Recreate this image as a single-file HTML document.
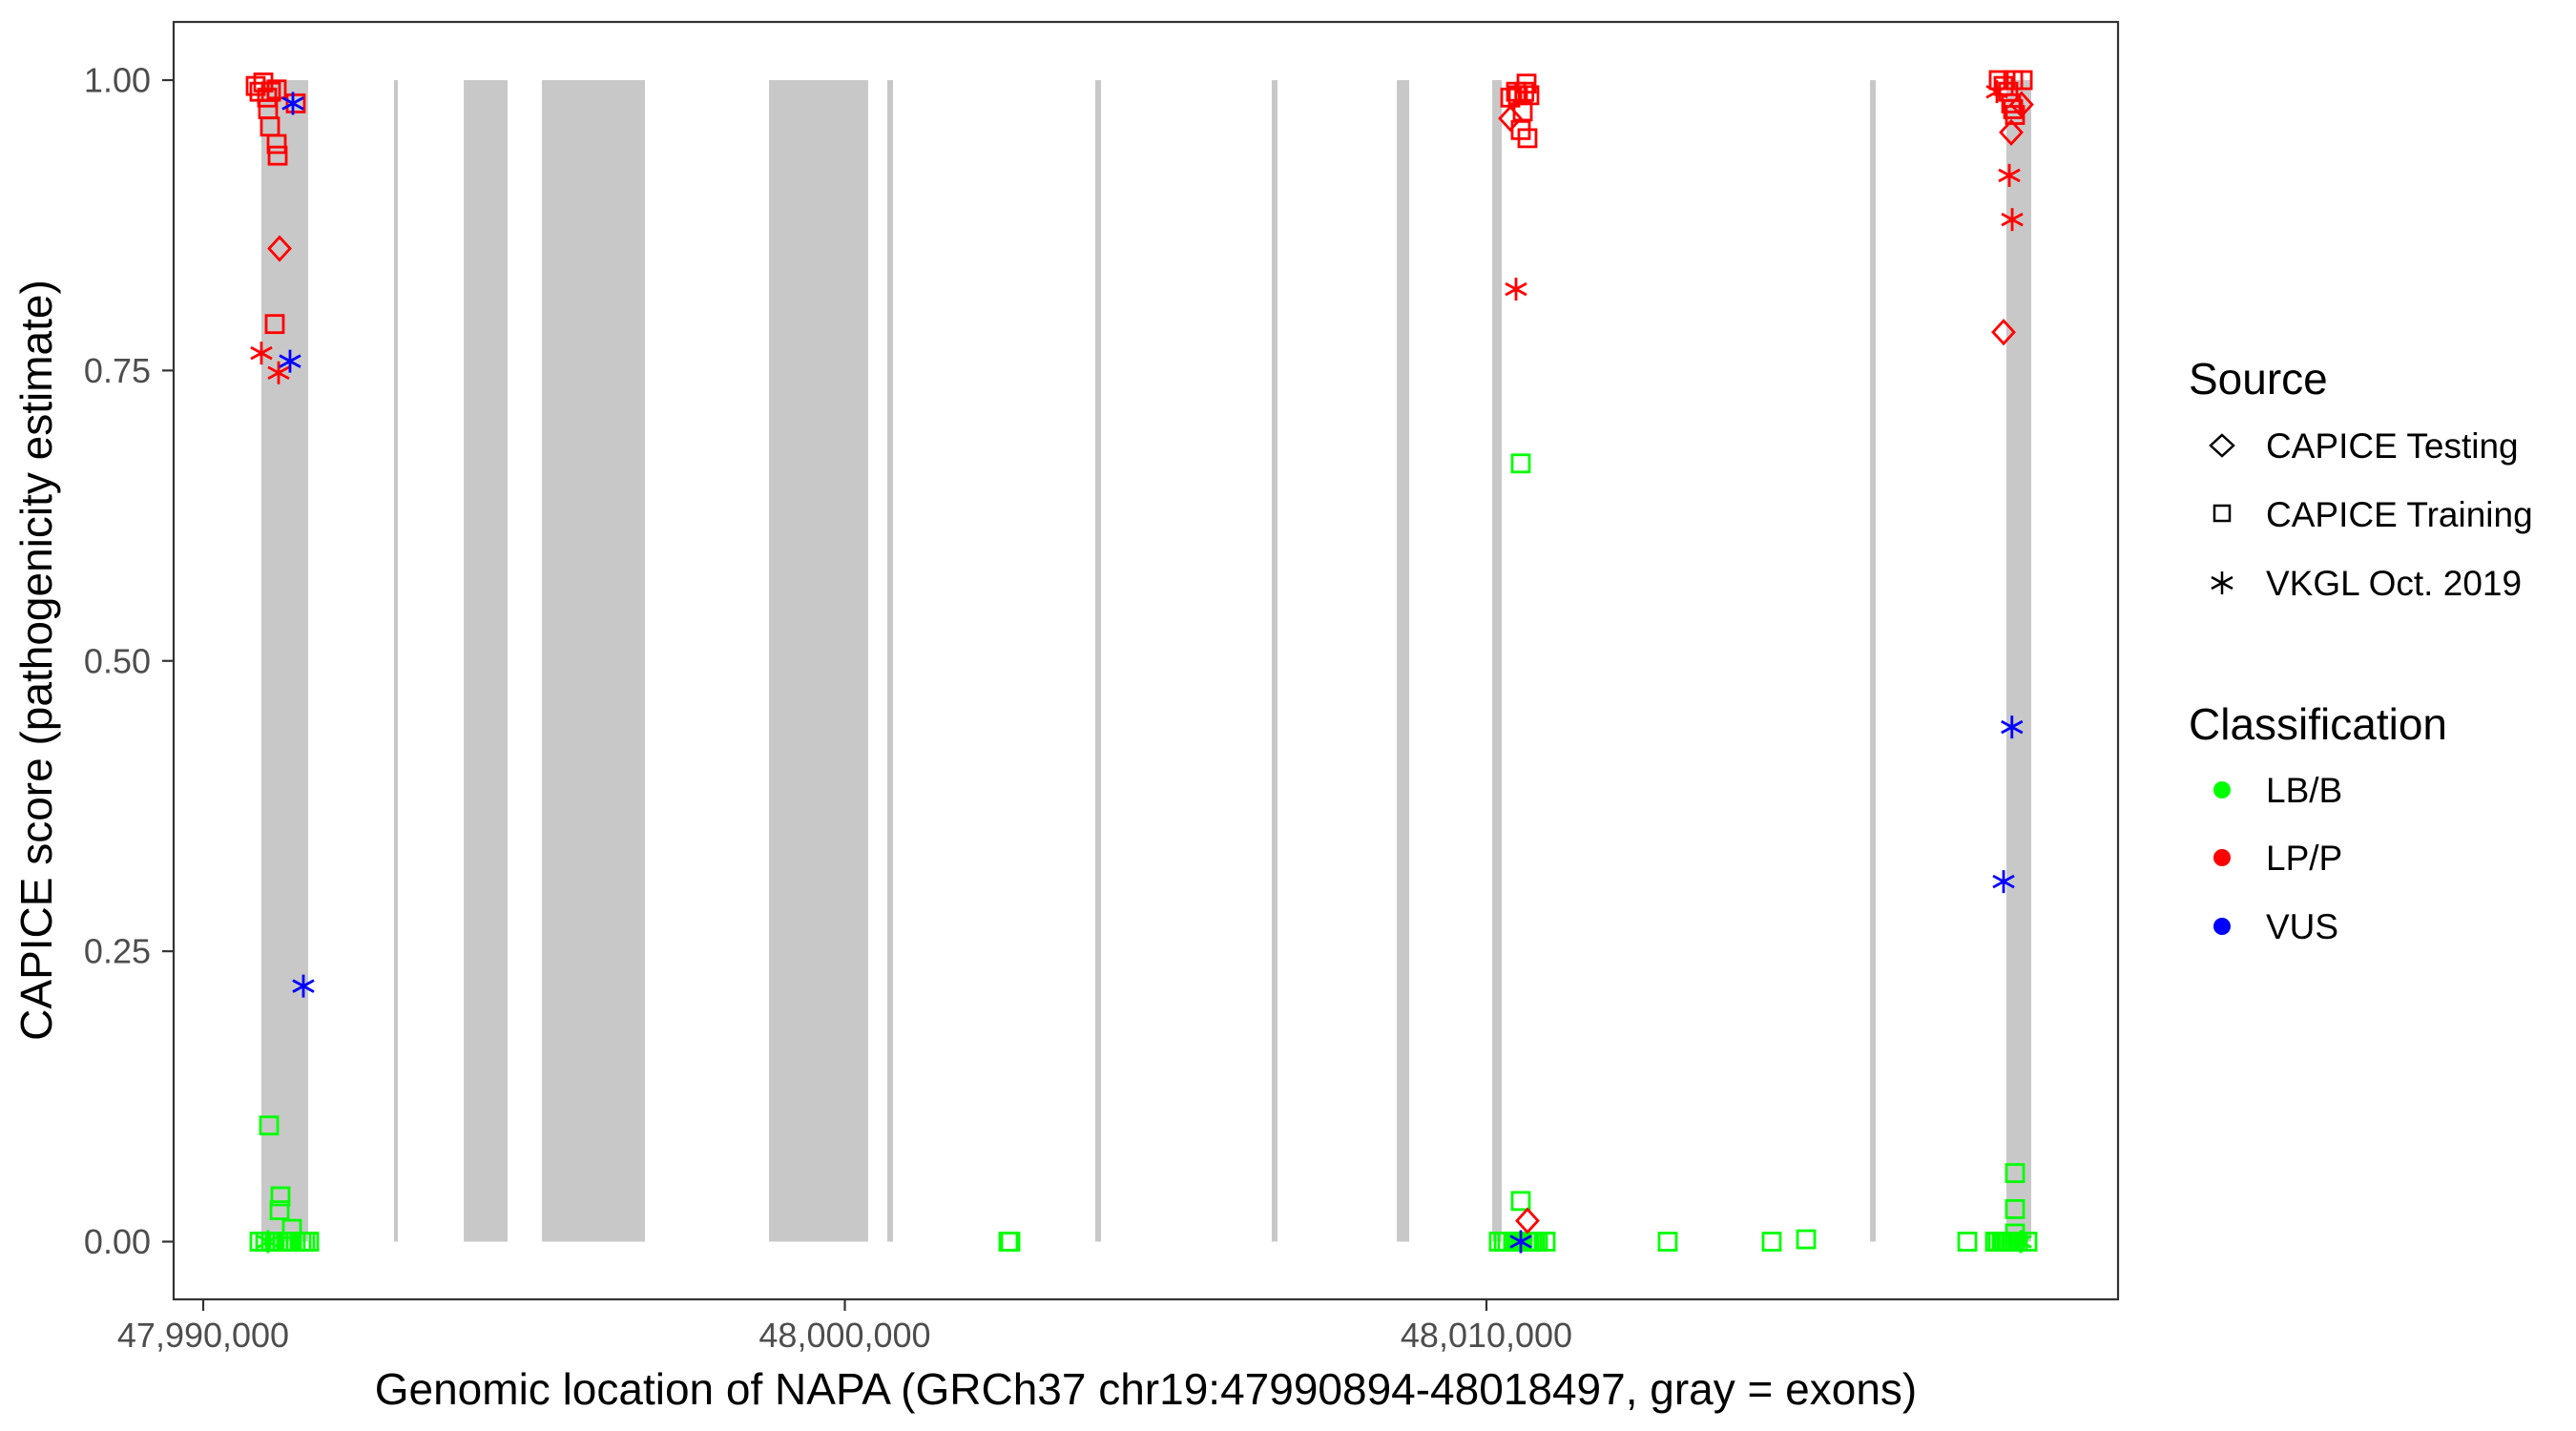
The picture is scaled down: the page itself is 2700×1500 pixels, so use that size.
<!DOCTYPE html>
<html><head><meta charset="utf-8"><style>
html,body{margin:0;padding:0;background:#fff;}
svg{display:block;}
text{font-family:"Liberation Sans",sans-serif;}
</style></head><body>
<svg id="chart" width="2700" height="1500" viewBox="0 0 2700 1500" xmlns="http://www.w3.org/2000/svg">
<rect x="0" y="0" width="2700" height="1500" fill="#fff"/>
<g id="exons"></g>
<g id="points"></g>
<rect x="182" y="23" width="2038" height="1339" fill="none" stroke="#333" stroke-width="2.2"/>
<g id="yaxis"></g>
<g id="xaxis"></g>
<text x="1201" y="1472" font-size="46" text-anchor="middle" fill="#000">Genomic location of NAPA (GRCh37 chr19:47990894-48018497, gray = exons)</text>
<text transform="translate(54,692) rotate(-90)" font-size="46" text-anchor="middle" fill="#000">CAPICE score (pathogenicity estimate)</text>
<g>
<text x="2294" y="413" font-size="46" fill="#000">Source</text>
<g>
<polygon points="2329,456 2341,467 2329,478 2317,467" fill="none" stroke="#000" stroke-width="2.5"/>
<text x="2375" y="480" font-size="37" fill="#000">CAPICE Testing</text></g>
<g>
<rect x="2321" y="530" width="16" height="16" fill="none" stroke="#000" stroke-width="2.5"/>
<text x="2375" y="552" font-size="37" fill="#000">CAPICE Training</text></g>
<g>
<g stroke="#000" stroke-width="2.5"><line x1="2329" y1="599" x2="2329" y2="623"/><line x1="2318" y1="605" x2="2340" y2="617"/><line x1="2318" y1="617" x2="2340" y2="605"/></g>
<text x="2375" y="624" font-size="37" fill="#000">VKGL Oct. 2019</text></g>
<text x="2294" y="775" font-size="46" fill="#000">Classification</text>
<g><circle cx="2329" cy="828" r="9" fill="#00ff00"/><text x="2375" y="841" font-size="37" fill="#000">LB/B</text></g>
<g><circle cx="2329" cy="899" r="9" fill="#ff0000"/><text x="2375" y="912" font-size="37" fill="#000">LP/P</text></g>
<g><circle cx="2329" cy="971" r="9" fill="#0000ff"/><text x="2375" y="984" font-size="37" fill="#000">VUS</text></g>
</g>
</svg>
<script>
const exonStarts=[47990907,47992974,47994060,47995279,47998818,48000662,48003903,48006654,48008603,48010090,48015978,48018104];
const exonEnds=[47991636,47993033,47994744,47996885,48000364,48000751,48003993,48006744,48008796,48010238,48016068,48018491];
const xTicks=[47990000,48000000,48010000];
const xTickLabels=["47,990,000","48,000,000","48,010,000"];
const yTicks=[0,0.25,0.5,0.75,1];
const yTickLabels=["0.00","0.25","0.50","0.75","1.00"];
// points: genomic position, score, source (T=testing,R=training,V=VKGL), class
const ptPos=[47990877,47990967,47991056,47991115,47991175,47991234,47991294,47991353,47991442,47991532,47991591,47991651,47991011,47991026,47991204,47991190,47991383,
47990818,47990877,47990937,47990996,47991056,47991145,47991011,47991041,47991145,47991160,47991442,47991115,47991190,47990907,47991175,47991398,47991353,47991561,
48010193,48010268,48010327,48010416,48010461,48010491,48010535,48010565,48010625,48010669,48010714,48010758,48010803,48010922,48012825,48014446,48014982,48017495,48010535,48010535,48010639,48002550,48002580,
48010625,48010461,48010669,48010372,48010491,48010565,48010535,48010372,48010461,48010639,48010535,48010590,
48017926,48017971,48018030,48018060,48018104,48018134,48018179,48018238,48018283,48018328,48018432,48018238,48018238,48018238,48018328,
48017956,48017985,48018209,48018358,48018060,48018134,48018179,48018209,48018238,48018340,48018179,48018149,48018194,48018060,48018190,48018060];
const ptScore=[0,0,0,0,0,0,0,0,0,0,0,0,0,0.10,0.039,0.027,0.011,
0.995,0.99,0.998,0.985,0.99,0.992,0.975,0.96,0.945,0.935,0.98,0.79,0.855,0.765,0.748,0.98,0.758,0.22,
0,0,0,0,0,0,0,0,0,0,0,0,0,0,0,0,0.002,0,0.035,0.67,0.018,0,0,
0.997,0.99,0.987,0.985,0.987,0.973,0.957,0.967,0.82,0.95,0,0.99,
0,0,0,0,0,0,0,0,0,0,0,0.059,0.028,0.007,0,
0.99,1.0,1.0,1.0,0.995,0.99,0.98,0.975,0.97,0.979,0.955,0.918,0.88,0.783,0.443,0.31];
const ptSrc=["R","R","R","R","R","R","R","R","R","R","R","R","V","R","R","R","R",
"R","R","R","R","R","R","R","R","R","R","R","R","T","V","V","V","V","V",
"R","R","R","R","R","R","R","R","R","R","R","R","R","R","R","R","R","R","R","R","T","R","R",
"R","R","R","R","R","R","R","T","V","R","V","R",
"R","R","R","R","R","R","R","R","R","V","R","R","R","R","V",
"V","R","R","R","R","R","R","R","R","T","T","V","V","T","V","V"];
const ptCls=["LB","LB","LB","LB","LB","LB","LB","LB","LB","LB","LB","LB","LB","LB","LB","LB","LB",
"LP","LP","LP","LP","LP","LP","LP","LP","LP","LP","LP","LP","LP","LP","LP","VUS","VUS","VUS",
"LB","LB","LB","LB","LB","LB","LB","LB","LB","LB","LB","LB","LB","LB","LB","LB","LB","LB","LB","LB","LP","LB","LB",
"LP","LP","LP","LP","LP","LP","LP","LP","LP","LP","VUS","LP",
"LB","LB","LB","LB","LB","LB","LB","LB","LB","LB","LB","LB","LB","LB","LB",
"LP","LP","LP","LP","LP","LP","LP","LP","LP","LP","LP","LP","LP","LP","VUS","VUS"];

const NS="http://www.w3.org/2000/svg";
function xs(bp){return 213+(bp-47990000)*0.06725;}
function ys(s){return 1301.5-s*1217.5;}
function mk(tag,attrs,parent){const e=document.createElementNS(NS,tag);for(const k in attrs)e.setAttribute(k,attrs[k]);parent.appendChild(e);return e;}
const colors={LB:"#00ff00",LP:"#ff0000",VUS:"#0000ff"};

const gEx=document.getElementById('exons');
for(let i=0;i<exonStarts.length;i++){
  const r=mk('rect',{x:xs(exonStarts[i]),y:ys(1),width:Math.max(xs(exonEnds[i])-xs(exonStarts[i]),4),height:ys(0)-ys(1),fill:"#c8c8c8"},gEx);
  
  
}
const gY=document.getElementById('yaxis');
for(let i=0;i<yTicks.length;i++){
  const y=ys(yTicks[i]);
  const l=mk('line',{x1:170,x2:182,y1:y,y2:y,stroke:"#333","stroke-width":2.2},gY);
  
  
  const t=mk('text',{x:158,y:y+12.5,"font-size":36,"text-anchor":"end",fill:"#4d4d4d"},gY);
  t.textContent=yTickLabels[i];
  
  
}
const gX=document.getElementById('xaxis');
for(let i=0;i<xTicks.length;i++){
  const x=xs(xTicks[i]);
  const l=mk('line',{x1:x,x2:x,y1:1362,y2:1374,stroke:"#333","stroke-width":2.2},gX);
  
  
  const t=mk('text',{x:x,y:1412,"font-size":36,"text-anchor":"middle",fill:"#4d4d4d"},gX);
  t.textContent=xTickLabels[i];
  
  
}
const gP=document.getElementById('points');
for(let i=0;i<ptPos.length;i++){
  const x=xs(ptPos[i]),y=ys(ptScore[i]),c=colors[ptCls[i]];
  let e;
  if(ptSrc[i]==="R"){
    e=mk('rect',{x:x-9,y:y-9,width:18,height:18,fill:"none",stroke:c,"stroke-width":2.8},gP);
  }else if(ptSrc[i]==="T"){
    e=mk('polygon',{points:`${x},${y-12} ${x+11},${y} ${x},${y+12} ${x-11},${y}`,fill:"none",stroke:c,"stroke-width":2.8},gP);
  }else{
    e=mk('path',{d:`M${x},${y-12}V${y+12}M${x-11},${y-6}L${x+11},${y+6}M${x-11},${y+6}L${x+11},${y-6}`,fill:"none",stroke:c,"stroke-width":2.8},gP);
  }
  
  
}
</script>
</body></html>
